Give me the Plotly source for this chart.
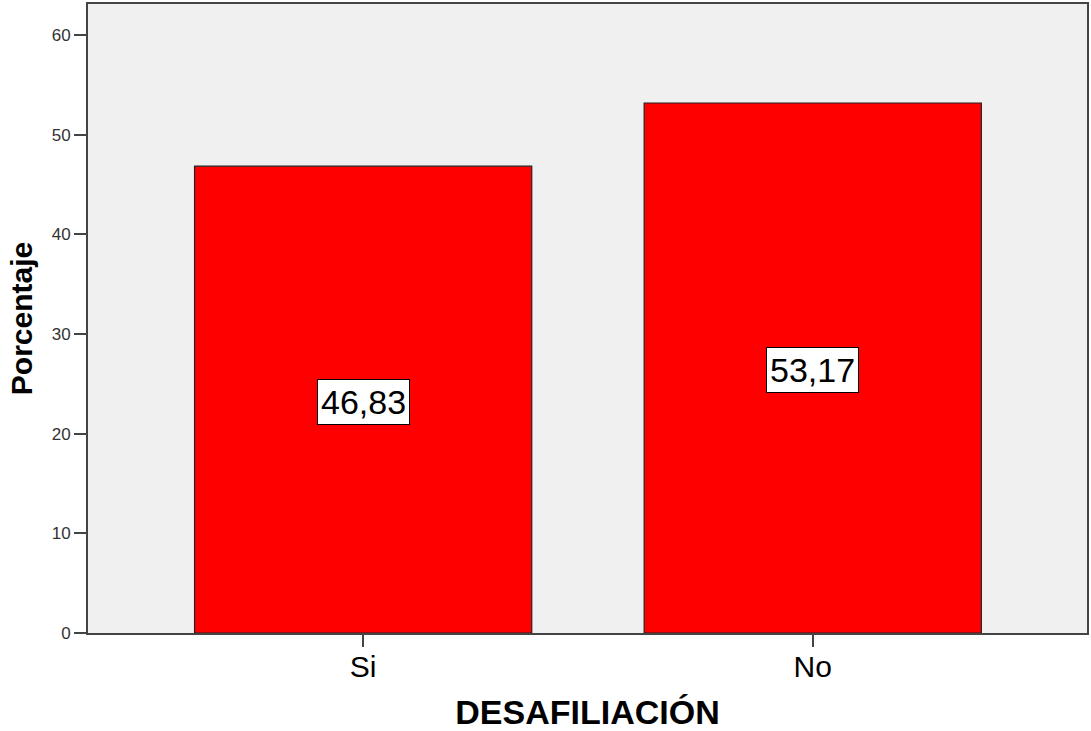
import plotly.graph_objects as go

categories = ["Si", "No"]
percentages = [46.83, 53.17]
value_labels = ["46,83", "53,17"]

figure = go.Figure()

figure.add_trace(
    go.Bar(
        x=categories,
        y=percentages,
        width=0.75,
        marker={
            "color": "#ff0000",
            "line": {"color": "#222222", "width": 1.2}
        },
        hoverinfo="skip"
    )
)

# value boxes in the middle of each bar
for category, value, label in zip(categories, percentages, value_labels):
    figure.add_annotation(
        x=category,
        y=value / 2,
        yshift=-2,
        text=label,
        showarrow=False,
        font={"family": "Arial, Liberation Sans", "size": 34, "color": "#000000"},
        bgcolor="#ffffff",
        bordercolor="#000000",
        borderwidth=1,
        borderpad=3
    )

figure.update_layout(
    width=1091,
    height=731,
    margin={"l": 88, "r": 2, "t": 2, "b": 98},
    paper_bgcolor="#ffffff",
    plot_bgcolor="#f0f0f0",
    showlegend=False,
    font={"family": "Arial, Liberation Sans", "color": "#000000"}
)

figure.update_xaxes(
    type="category",
    range=[-0.612, 1.61],
    showline=True,
    linecolor="#444444",
    linewidth=2,
    mirror=True,
    ticks="outside",
    ticklen=12,
    tickwidth=2,
    tickcolor="#444444",
    ticklabelstandoff=-6,
    tickfont={"size": 30, "color": "#000000"},
    showgrid=False,
    title={
        "text": "<b>DESAFILIACIÓN</b>",
        "font": {"size": 34, "color": "#000000"},
        "standoff": 19
    }
)

figure.update_yaxes(
    range=[0, 63.1],
    tickvals=[0, 10, 20, 30, 40, 50, 60],
    showline=True,
    linecolor="#444444",
    linewidth=2,
    mirror=True,
    ticks="outside",
    ticklen=12,
    tickwidth=2,
    tickcolor="#444444",
    tickfont={"size": 17, "color": "#333333"},
    showgrid=False,
    zeroline=False,
    title={
        "text": "<b>Porcentaje</b>",
        "font": {"size": 30, "color": "#000000"},
        "standoff": 10
    }
)

# drop the default page margin so the figure sits flush in the window
figure.write_html(
    "out.html",
    config={"displayModeBar": False},
    post_script="document.body.style.margin='0';document.body.style.overflow='hidden';"
)
